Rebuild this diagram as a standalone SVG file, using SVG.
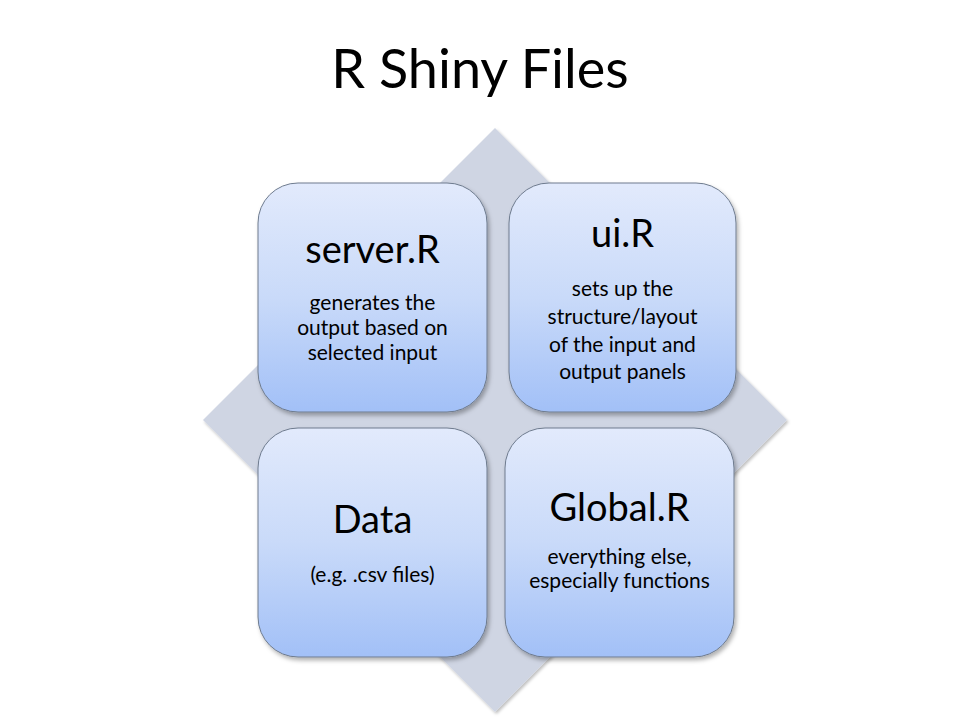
<svg xmlns="http://www.w3.org/2000/svg" width="960" height="720" viewBox="0 0 960 720">
<defs>
<linearGradient id="boxGrad" x1="0" y1="0" x2="0" y2="1">
<stop offset="0" stop-color="#e2eafc"/>
<stop offset="0.5" stop-color="#c9daf9"/>
<stop offset="1" stop-color="#a2c0f7"/>
</linearGradient>
<filter id="shadow" x="-10%" y="-10%" width="125%" height="125%">
<feDropShadow dx="2" dy="3" stdDeviation="2" flood-color="#000" flood-opacity="0.3"/>
</filter>
<filter id="dshadow" x="-10%" y="-10%" width="125%" height="125%">
<feDropShadow dx="1.5" dy="2" stdDeviation="1.5" flood-color="#000" flood-opacity="0.25"/>
</filter>
</defs>
<style>
.box{fill:url(#boxGrad);stroke:#6e7b8e;stroke-width:1;filter:url(#shadow)}
.ttl{font-family:Lato,"Liberation Sans",sans-serif;fill:#000;text-anchor:middle}
.head{font-size:38px}
.sub{font-size:21px}
</style>
<rect width="960" height="720" fill="#ffffff"/>
<text class="ttl" x="480" y="88" font-size="54">R Shiny Files</text>
<g id="diamond">
<polygon points="495,128 787,420 495,712 203,420" fill="#cfd5e3" filter="url(#dshadow)"/>
</g>
<g id="connectors"></g>
<g id="server">
<rect class="box" x="258" y="183" width="229" height="229" rx="40" ry="40"/>
<text class="ttl head" x="372.5" y="263">server.R</text>
<text class="ttl sub" x="372.5" y="310">generates the</text>
<text class="ttl sub" x="372.5" y="335">output based on</text>
<text class="ttl sub" x="372.5" y="360">selected input</text>
</g>
<g id="ui">
<rect class="box" x="509" y="183" width="227" height="229" rx="40" ry="40"/>
<text class="ttl head" x="622.5" y="247">ui.R</text>
<text class="ttl sub" x="622.5" y="296">sets up the</text>
<text class="ttl sub" x="622.5" y="324">structure/layout</text>
<text class="ttl sub" x="622.5" y="352">of the input and</text>
<text class="ttl sub" x="622.5" y="379">output panels</text>
</g>
<g id="data">
<rect class="box" x="258" y="428" width="229" height="229" rx="40" ry="40"/>
<text class="ttl head" x="372.5" y="533">Data</text>
<text class="ttl sub" x="372.5" y="582">(e.g. .csv files)</text>
</g>
<g id="global">
<rect class="box" x="505" y="428" width="229" height="229" rx="40" ry="40"/>
<text class="ttl head" x="619.5" y="521">Global.R</text>
<text class="ttl sub" x="619.5" y="564">everything else,</text>
<text class="ttl sub" x="619.5" y="588">especially functions</text>
</g>
</svg>
